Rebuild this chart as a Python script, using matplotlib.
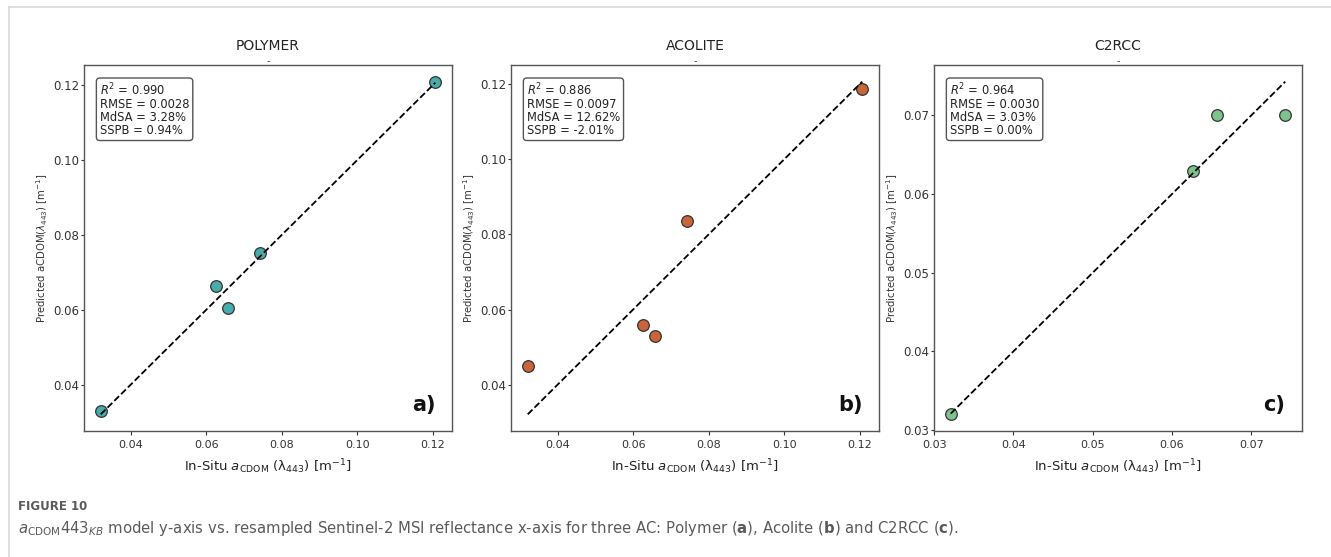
import numpy as np
import matplotlib
matplotlib.use('Agg')
import matplotlib.pyplot as plt
from matplotlib.lines import Line2D

# in-situ aCDOM(443) values (x) and predicted values (y) per AC processor
insitu = [0.0321, 0.0627, 0.0657, 0.0743, 0.1207]
polymer = [0.0329, 0.0663, 0.0606, 0.0751, 0.1210]
acolite = [0.0449, 0.0559, 0.0531, 0.0837, 0.1187]
insitu_c2rcc = [0.0321, 0.0627, 0.0657, 0.0743]
c2rcc = [0.0320, 0.0629, 0.0701, 0.0701]

titles = ['POLYMER', 'ACOLITE', 'C2RCC']
panel_tags = ['a)', 'b)', 'c)']
stats = [
    ['0.990', '0.0028', '3.28%', '0.94%'],
    ['0.886', '0.0097', '12.62%', '-2.01%'],
    ['0.964', '0.0030', '3.03%', '0.00%'],
]
colors = ['#4aacaa', '#c9653a', '#7cc48c']

xs = [insitu, insitu, insitu_c2rcc]
ys = [polymer, acolite, c2rcc]

fig = plt.figure(figsize=(13.31, 5.57), dpi=100)
lefts = [84, 511, 934]
W, H = 1331, 557

for i in range(3):
    ax = fig.add_axes([lefts[i] / W, (H - 431) / H, 368 / W, 366 / H])
    x = np.array(xs[i])
    y = np.array(ys[i])
    ax.scatter(x, y, s=70, color=colors[i], edgecolor='#333333', linewidth=0.9, zorder=2)
    # 1:1 line over the in-situ range
    lo, hi = x.min(), x.max()
    ax.plot([lo, hi], [lo, hi], 'k--', lw=1.3, zorder=3)
    ax.set_title(titles[i], fontsize=10, color='#222222', pad=11)
    ax.text(0.5, 1.012, '-', transform=ax.transAxes, ha='center', va='center',
            fontsize=7, color='#444444')
    s = stats[i]
    txt = ('$R^2$ = ' + s[0] + '\nRMSE = ' + s[1] + '\nMdSA = ' + s[2] +
           '\nSSPB = ' + s[3])
    ax.text(0.043, 0.955, txt, transform=ax.transAxes, ha='left', va='top',
            fontsize=8.3, color='#222222', linespacing=1.0,
            bbox=dict(boxstyle='round,pad=0.3', fc='white', ec='#555555', lw=1))
    ax.text(0.955, 0.07, panel_tags[i], transform=ax.transAxes, ha='right',
            va='center', fontsize=15, fontweight='bold', color='#111111')
    ax.set_xlabel('In-Situ $a_{\\mathrm{CDOM}}$ (λ$_{443}$) [m$^{-1}$]',
                  fontsize=9.5, labelpad=5, color='#222222')
    ax.set_ylabel('Predicted aCDOM($\\lambda_{443}$) [m$^{-1}$]', fontsize=7.3,
                  color='#333333', labelpad=2)
    ax.tick_params(axis='x', labelsize=8, colors='#333333', length=3)
    ax.tick_params(axis='y', labelsize=8.5, colors='#333333', length=2, pad=1.5)
    for sp in ax.spines.values():
        sp.set_color('#555555')
        sp.set_linewidth(1)
    if i == 2:
        ax.set_xticks([0.03, 0.04, 0.05, 0.06, 0.07])
        ax.set_yticks([0.03, 0.04, 0.05, 0.06, 0.07])
    else:
        ax.set_xticks([0.04, 0.06, 0.08, 0.10, 0.12])
        ax.set_yticks([0.04, 0.06, 0.08, 0.10, 0.12])

# page frame lines
fig.add_artist(Line2D([9 / W, 1], [1 - 7 / H, 1 - 7 / H], color='#d9d9d9', lw=1.2))
fig.add_artist(Line2D([9 / W, 9 / W], [0, 1 - 7 / H], color='#d9d9d9', lw=1.2))

fig.text(18 / W, 1 - 506 / H, 'FIGURE 10', fontsize=8.5, fontweight='bold',
         color='#5a5a5a', va='center', ha='left')
fig.text(18 / W, 1 - 528 / H,
         '$a_{\\mathrm{CDOM}}$443$_{KB}$ model y-axis vs. resampled Sentinel-2 MSI '
         'reflectance x-axis for three AC: Polymer ($\\mathbf{a}$), Acolite '
         '($\\mathbf{b}$) and C2RCC ($\\mathbf{c}$).',
         fontsize=10.7, color='#5a5a5a', va='center', ha='left')

fig.savefig('out.png', dpi=100, facecolor='white')
